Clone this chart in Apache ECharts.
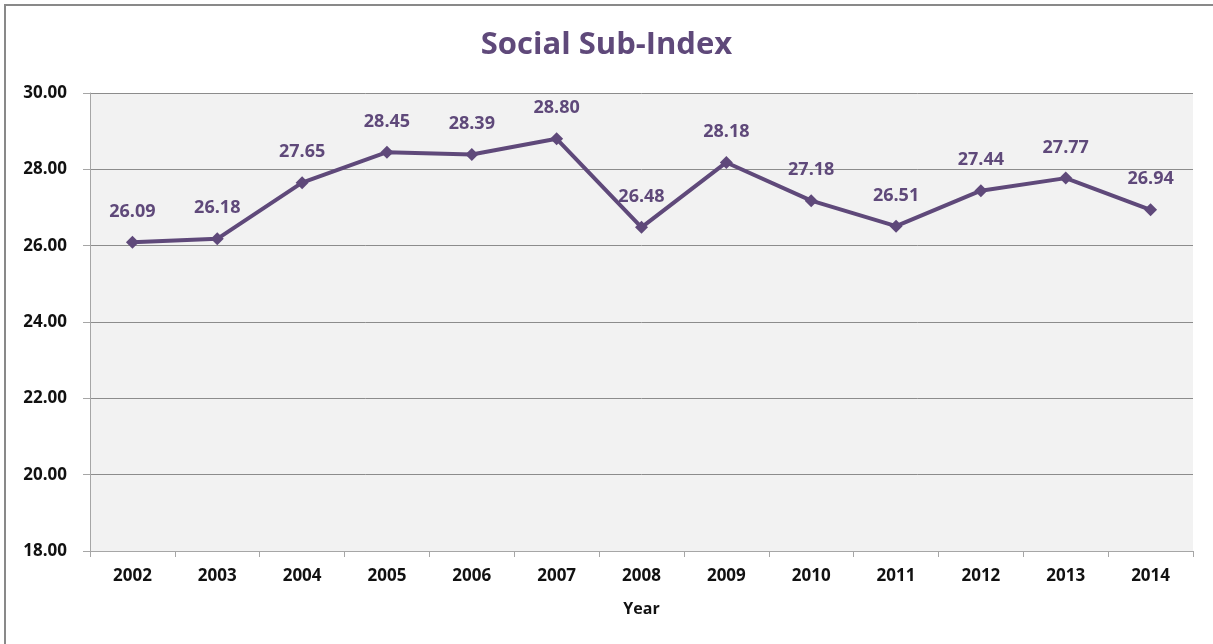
<!DOCTYPE html>
<html>
<head>
<meta charset="utf-8">
<script src="https://cdn.jsdelivr.net/npm/echarts@6/dist/echarts.min.js"></script>
<style>html,body{margin:0;padding:0;background:#fff;}#c{width:1213px;height:644px;}</style>
</head>
<body>
<div id="c"></div>
<script>
const years = ['2002','2003','2004','2005','2006','2007','2008','2009','2010','2011','2012','2013','2014'];
const socialIndex = [26.09, 26.18, 27.65, 28.45, 28.39, 28.80, 26.48, 28.18, 27.18, 26.51, 27.44, 27.77, 26.94];
const yTicks = [18, 20, 22, 24, 26, 28, 30];

const purple = '#5f497a';
const chart = echarts.init(document.getElementById('c'));
chart.setOption({
  animation: false,
  backgroundColor: '#ffffff',
  title: {
    text: 'Social Sub-Index',
    left: 'center',
    top: 25,
    textStyle: { color: purple, fontFamily: 'Open Sans', fontWeight: 'bold', fontSize: 31 }
  },
  graphic: [{
    type: 'rect',
    shape: { x: 5, y: 5, width: 1215, height: 700 },
    style: { fill: 'none', stroke: '#898989', lineWidth: 2 },
    silent: true,
    z: -1
  }],
  grid: { left: 90, right: 20, top: 93, bottom: 93, show: true, backgroundColor: '#f2f2f2', borderWidth: 0 },
  xAxis: {
    type: 'category',
    data: years,
    boundaryGap: true,
    name: 'Year',
    nameLocation: 'middle',
    nameGap: 50,
    nameTextStyle: { color: '#111', fontFamily: 'Open Sans', fontWeight: 'bold', fontSize: 16 },
    axisLine: { lineStyle: { color: '#a6a6a6', width: 1 } },
    axisTick: { show: true, length: 6, alignWithLabel: false, lineStyle: { color: '#a6a6a6' } },
    axisLabel: { color: '#111', fontFamily: 'Open Sans', fontWeight: 'bold', fontSize: 17, margin: 17 }
  },
  yAxis: {
    type: 'value',
    min: yTicks[0],
    max: yTicks[yTicks.length - 1],
    interval: 2,
    axisLine: { show: true, lineStyle: { color: '#a6a6a6', width: 1 } },
    axisTick: { show: true, length: 7, lineStyle: { color: '#a6a6a6' } },
    splitLine: { show: true, lineStyle: { color: '#8c8c8c', width: 1 } },
    axisLabel: {
      color: '#111', fontFamily: 'Open Sans', fontWeight: 'bold', fontSize: 17, margin: 23,
      formatter: v => v.toFixed(2)
    }
  },
  series: [{
    type: 'line',
    data: socialIndex,
    symbol: 'diamond',
    symbolSize: 13,
    lineStyle: { color: purple, width: 4 },
    itemStyle: { color: purple },
    label: {
      show: true,
      position: 'top',
      distance: 15,
      color: purple,
      fontFamily: 'Open Sans',
      fontWeight: 'bold',
      fontSize: 18,
      formatter: p => p.value.toFixed(2)
    }
  }]
});
</script>
</body>
</html>
